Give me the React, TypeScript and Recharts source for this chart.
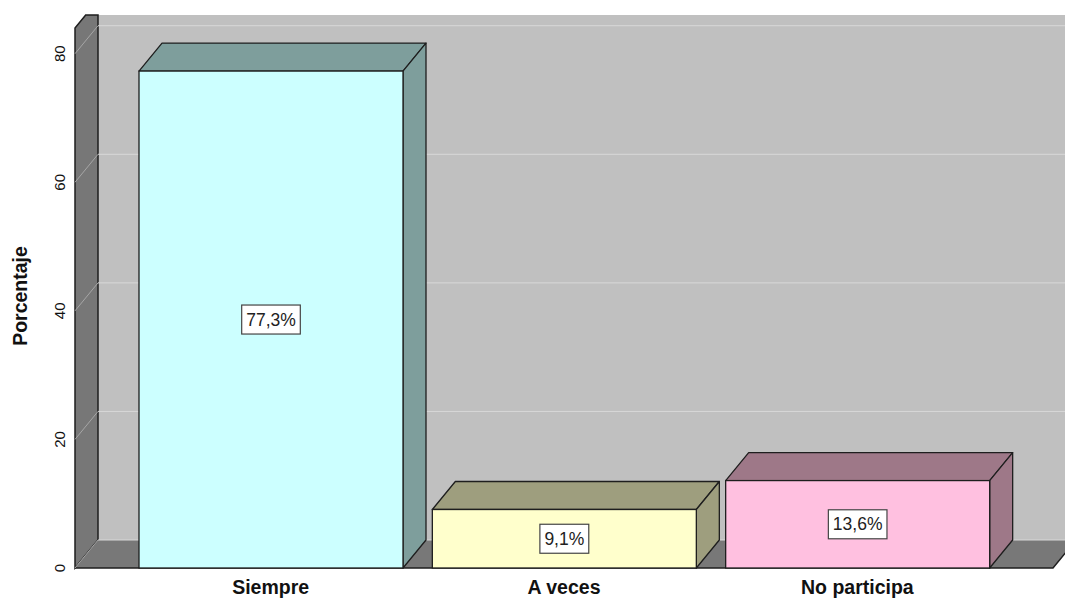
import { BarChart, Bar, XAxis, YAxis, CartesianGrid, Cell, LabelList } from "recharts";

const categories = ["Siempre", "A veces", "No participa"];
const values = [77.3, 9.1, 13.6];
const yTicks = [0, 20, 40, 60, 80];

const frontColors = ["#ccffff", "#ffffcc", "#ffc0e0"];
const sideColors = ["#7e9e9c", "#9e9e7e", "#9e7888"];

const data = categories.map((name, i) => ({ name, value: values[i] }));

const W = 1065;
const H = 601;
const TOP = 28;
const BOTTOM = 568;
const CLIP_Y = 15;
// 3D depth offset
const DX = 23;
const DY = -28;
const EDGE = "#1e1e1e";

const fmt = (v: number) => `${v.toFixed(1).replace(".", ",")}%`;

// rough Arial advance widths, for sizing the label boxes
const textWidth = (s: string, size: number) => {
  let w = 0;
  for (const ch of s) {
    if (ch === ",") w += 0.278;
    else if (ch === "%") w += 0.889;
    else w += 0.556;
  }
  return w * size;
};

function Walls({ x1, x2 }: { x1: number; x2: number }) {
  const cut = x1 + (DX * (TOP - CLIP_Y)) / -DY;
  return (
    <g>
      <rect x={x1 + DX} y={CLIP_Y} width={W - x1 - DX} height={BOTTOM + DY - CLIP_Y} fill="#c0c0c0" />
      <polygon
        points={`${x1},${BOTTOM} ${x1 + DX},${BOTTOM + DY} ${x1 + DX},${CLIP_Y} ${cut},${CLIP_Y} ${x1},${TOP}`}
        fill="#777777"
        stroke={EDGE}
        strokeWidth={1.5}
      />
      <polygon
        points={`${x1},${BOTTOM} ${x2},${BOTTOM} ${x2 + DX},${BOTTOM + DY} ${x1 + DX},${BOTTOM + DY}`}
        fill="#787878"
      />
      <polyline
        points={`${x1},${BOTTOM} ${x2},${BOTTOM} ${x2 + DX},${BOTTOM + DY}`}
        fill="none"
        stroke={EDGE}
        strokeWidth={1.5}
      />
    </g>
  );
}

function gridLine(props: any) {
  const { x1, x2, y1, index } = props;
  // skip the plot's top edge, only tick lines go on the walls
  const isTick = y1 > TOP + 2;
  return (
    <g key={`grid-${index}`}>
      {index === 0 && <Walls x1={x1} x2={x2} />}
      {isTick && (
        <>
          <line x1={x1 + DX} y1={y1 + DY} x2={W} y2={y1 + DY} stroke="#d8d8d8" strokeWidth={1} />
          <line x1={x1} y1={y1} x2={x1 + DX} y2={y1 + DY} stroke="#a6a6a6" strokeWidth={1} />
        </>
      )}
    </g>
  );
}

function Bar3D(props: any) {
  const { x, y, width, height, payload } = props;
  const i = categories.indexOf(payload.name);
  const side = sideColors[i];
  const front = frontColors[i];
  return (
    <g>
      <polygon
        points={`${x},${y} ${x + DX},${y + DY} ${x + width + DX},${y + DY} ${x + width},${y}`}
        fill={side}
        stroke={EDGE}
        strokeWidth={1.3}
        strokeLinejoin="round"
      />
      <polygon
        points={`${x + width},${y} ${x + width + DX},${y + DY} ${x + width + DX},${y + height + DY} ${x + width},${y + height}`}
        fill={side}
        stroke={EDGE}
        strokeWidth={1.3}
        strokeLinejoin="round"
      />
      <rect x={x} y={y} width={width} height={height} fill={front} stroke={EDGE} strokeWidth={1.3} />
    </g>
  );
}

function ValueLabel(props: any) {
  const { x, y, width, height, value } = props;
  const cx = x + width / 2;
  const cy = y + height / 2;
  const txt = fmt(value);
  const bw = textWidth(txt, 17.5) + 9;
  const bh = 29;
  return (
    <g>
      <rect x={cx - bw / 2} y={cy - bh / 2} width={bw} height={bh} fill="#ffffff" stroke="#444" strokeWidth={1.2} />
      <text
        x={cx}
        y={cy + 6}
        textAnchor="middle"
        fontFamily="Liberation Sans, Arial, sans-serif"
        fontSize={17.5}
        fill="#222"
      >
        {txt}
      </text>
    </g>
  );
}

function XTick(props: any) {
  const { x, payload } = props;
  return (
    <text
      x={x}
      y={594}
      textAnchor="middle"
      fontFamily="Liberation Sans, Arial, sans-serif"
      fontWeight="bold"
      fontSize={19.5}
      fill="#111"
    >
      {payload.value}
    </text>
  );
}

function YTick(props: any) {
  const { y, payload } = props;
  return (
    <text
      transform={`translate(65, ${y}) rotate(-90)`}
      textAnchor="middle"
      fontFamily="Liberation Sans, Arial, sans-serif"
      fontSize={15}
      fill="#111"
    >
      {payload.value}
    </text>
  );
}

export default function App() {
  return (
    <div style={{ position: "absolute", left: 0, top: 0, width: W, height: H, background: "#fff" }}>
      <BarChart
        width={W}
        height={H}
        data={data}
        margin={{ top: TOP, right: 12, bottom: 0, left: 15 }}
        barSize={264}
      >
        <CartesianGrid vertical={false} horizontal={gridLine} />
        <XAxis
          dataKey="name"
          height={H - BOTTOM}
          axisLine={false}
          tickLine={false}
          padding={{ left: 49, right: 49 }}
          tick={<XTick />}
          interval={0}
        />
        <YAxis
          width={60}
          domain={[0, 84]}
          ticks={yTicks}
          axisLine={false}
          tickLine={false}
          tick={<YTick />}
          label={{
            content: () => (
              <text
                transform="translate(27, 296) rotate(-90)"
                textAnchor="middle"
                fontFamily="Liberation Sans, Arial, sans-serif"
                fontWeight="bold"
                fontSize={19.5}
                fill="#111"
              >
                Porcentaje
              </text>
            ),
          }}
        />
        <Bar dataKey="value" shape={<Bar3D />} isAnimationActive={false}>
          {data.map((d, i) => (
            <Cell key={d.name} fill={frontColors[i]} />
          ))}
          <LabelList dataKey="value" content={<ValueLabel />} />
        </Bar>
      </BarChart>
    </div>
  );
}
